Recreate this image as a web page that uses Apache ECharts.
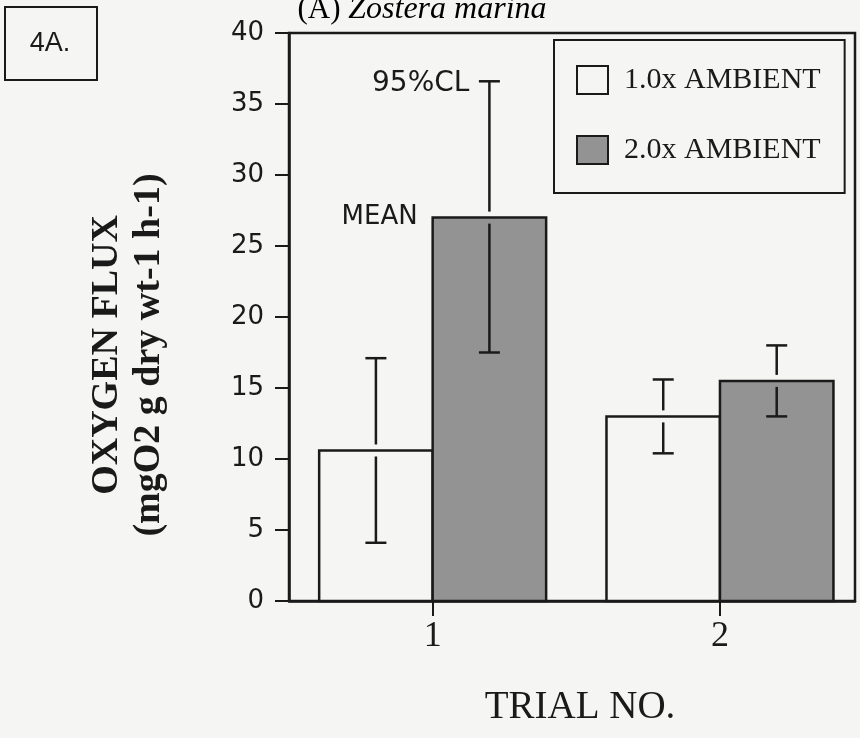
<!DOCTYPE html>
<html>
<head>
<meta charset="utf-8">
<title>Oxygen flux - Zostera marina</title>
<script src="https://cdn.jsdelivr.net/npm/echarts@6/dist/echarts.min.js"></script>
<style>
    html, body { margin: 0; padding: 0; background: #f5f5f3; }
    #chart { width: 860px; height: 738px; }
</style>
</head>
<body>
<div id="chart"></div>
<script>
    // values
    var trials = [1, 2];
    var yTicks = [0, 5, 10, 15, 20, 25, 30, 35, 40];
    var seriesNames = ['1.0x AMBIENT', '2.0x AMBIENT'];
    var ambient1Mean = [10.6, 13.0];
    var ambient1Low = [4.1, 10.4];
    var ambient1High = [17.1, 15.6];
    var ambient2Mean = [27.0, 15.5];
    var ambient2Low = [17.5, 13.0];
    var ambient2High = [36.6, 18.0];
    var noteLabels = ['95%CL', 'MEAN'];

    var ink = '#1a1a1a';
    var paper = '#f5f5f3';
    var grey = '#939393';
    var serif = '"Liberation Serif", "DejaVu Serif", serif';
    var sans = '"DejaVu Sans", "Liberation Sans", sans-serif';
    var barSpan = 0.395;   // bar width in trial units

    function rows(means, lows, highs) {
        return trials.map(function (t, i) {
            return [t, means[i], lows[i], highs[i]];
        });
    }

    function barRenderer(side, fill, withNotes) {
        return function (params, api) {
            var x = api.value(0);
            var mean = api.value(1);
            var x0 = side < 0 ? x - barSpan : x;
            var x1 = side < 0 ? x : x + barSpan;
            var base = api.coord([x0, 0]);
            var top = api.coord([x1, mean]);
            var cx = (base[0] + top[0]) / 2;
            var yHi = api.coord([x, api.value(3)])[1];
            var yLo = api.coord([x, api.value(2)])[1];
            var yM = top[1];
            var gap = 6, cap = 10.5;
            var lineStyle = { stroke: ink, lineWidth: 2.5 };
            var kids = [
                {
                    type: 'rect',
                    shape: { x: base[0], y: yM, width: top[0] - base[0], height: base[1] - yM },
                    style: { fill: fill, stroke: ink, lineWidth: 2.5 }
                },
                { type: 'line', shape: { x1: cx - cap, y1: yHi, x2: cx + cap, y2: yHi }, style: lineStyle },
                { type: 'line', shape: { x1: cx, y1: yHi, x2: cx, y2: yM - gap }, style: lineStyle },
                { type: 'line', shape: { x1: cx, y1: yM + gap, x2: cx, y2: yLo }, style: lineStyle },
                { type: 'line', shape: { x1: cx - cap, y1: yLo, x2: cx + cap, y2: yLo }, style: lineStyle }
            ];
            if (withNotes && params.dataIndex === 0) {
                kids.push({
                    type: 'text',
                    style: { text: noteLabels[0], x: cx - 20, y: yHi + 2, align: 'right', verticalAlign: 'middle',
                        fontFamily: sans, fontSize: 28, fill: ink }
                });
                kids.push({
                    type: 'text',
                    style: { text: noteLabels[1], x: base[0] - 15, y: yM, align: 'right', verticalAlign: 'middle',
                        fontFamily: sans, fontSize: 26, fill: ink }
                });
            }
            return { type: 'group', children: kids };
        };
    }

    var chart = echarts.init(document.getElementById('chart'));
    chart.setOption({
        backgroundColor: paper,
        animation: false,
        grid: {
            left: 289, right: 5, top: 33, bottom: 137,
            show: true, borderColor: ink, borderWidth: 2.5, backgroundColor: 'transparent'
        },
        legend: {
            orient: 'vertical',
            left: 554, top: 40,
            padding: [25, 24, 28, 22],
            itemGap: 40,
            itemWidth: 31,
            itemHeight: 28,
            icon: 'rect',
            selectedMode: false,
            borderColor: ink,
            borderWidth: 2,
            backgroundColor: paper,
            textStyle: { fontFamily: serif, fontSize: 30, color: ink, padding: [0, 0, 0, 11], lineHeight: 28 },
            data: [
                { name: seriesNames[0], itemStyle: { color: paper, borderColor: ink, borderWidth: 2 } },
                { name: seriesNames[1], itemStyle: { color: grey, borderColor: ink, borderWidth: 2 } }
            ]
        },
        xAxis: {
            type: 'value',
            min: 0.5,
            max: 2.47,
            axisLine: { show: true, onZero: false, lineStyle: { color: ink, width: 2.5 } },
            axisTick: { show: true, customValues: trials, length: 15, lineStyle: { color: ink, width: 2 } },
            axisLabel: { customValues: trials, margin: 18, fontFamily: serif, fontSize: 36, color: ink },
            splitLine: { show: false }
        },
        yAxis: {
            type: 'value',
            min: yTicks[0],
            max: yTicks[yTicks.length - 1],
            interval: 5,
            axisLine: { show: true, lineStyle: { color: ink, width: 2.5 } },
            axisTick: { show: true, length: 14, lineStyle: { color: ink, width: 2 } },
            axisLabel: { margin: 25, fontFamily: sans, fontSize: 26, color: ink },
            splitLine: { show: false }
        },
        series: [
            {
                name: seriesNames[0],
                type: 'custom',
                itemStyle: { color: paper },
                encode: { x: 0, y: [1, 2, 3] },
                renderItem: barRenderer(-1, paper, false),
                data: rows(ambient1Mean, ambient1Low, ambient1High)
            },
            {
                name: seriesNames[1],
                type: 'custom',
                itemStyle: { color: grey },
                encode: { x: 0, y: [1, 2, 3] },
                renderItem: barRenderer(1, grey, true),
                data: rows(ambient2Mean, ambient2Low, ambient2High)
            }
        ],
        graphic: [
            {
                type: 'rect',
                shape: { x: 5, y: 7, width: 92, height: 73 },
                style: { fill: 'none', stroke: ink, lineWidth: 2 }
            },
            {
                type: 'text',
                style: { text: '4A.', x: 50, y: 44, align: 'center', verticalAlign: 'middle',
                    fontFamily: '"Liberation Sans", Arial, sans-serif', fontSize: 27, fill: ink }
            },
            {
                type: 'text',
                style: {
                    text: '{n|(A) }{i|Zostera marina}',
                    x: 422, y: 10, align: 'center', verticalAlign: 'middle',
                    rich: {
                        n: { fontFamily: serif, fontSize: 31, color: ink },
                        i: { fontFamily: serif, fontSize: 32, fontStyle: 'italic', color: ink }
                    }
                }
            },
            {
                type: 'text',
                rotation: Math.PI / 2,
                x: 128, y: 355,
                style: {
                    text: 'OXYGEN FLUX\n(mgO2 g dry wt-1 h-1)',
                    align: 'center', verticalAlign: 'middle',
                    fontFamily: serif, fontSize: 38, fontWeight: 'bold', lineHeight: 42, fill: ink
                }
            },
            {
                type: 'text',
                style: { text: 'TRIAL NO.', x: 580, y: 708, align: 'center', verticalAlign: 'middle',
                    fontFamily: serif, fontSize: 39, fill: ink }
            }
        ]
    });
</script>
</body>
</html>
